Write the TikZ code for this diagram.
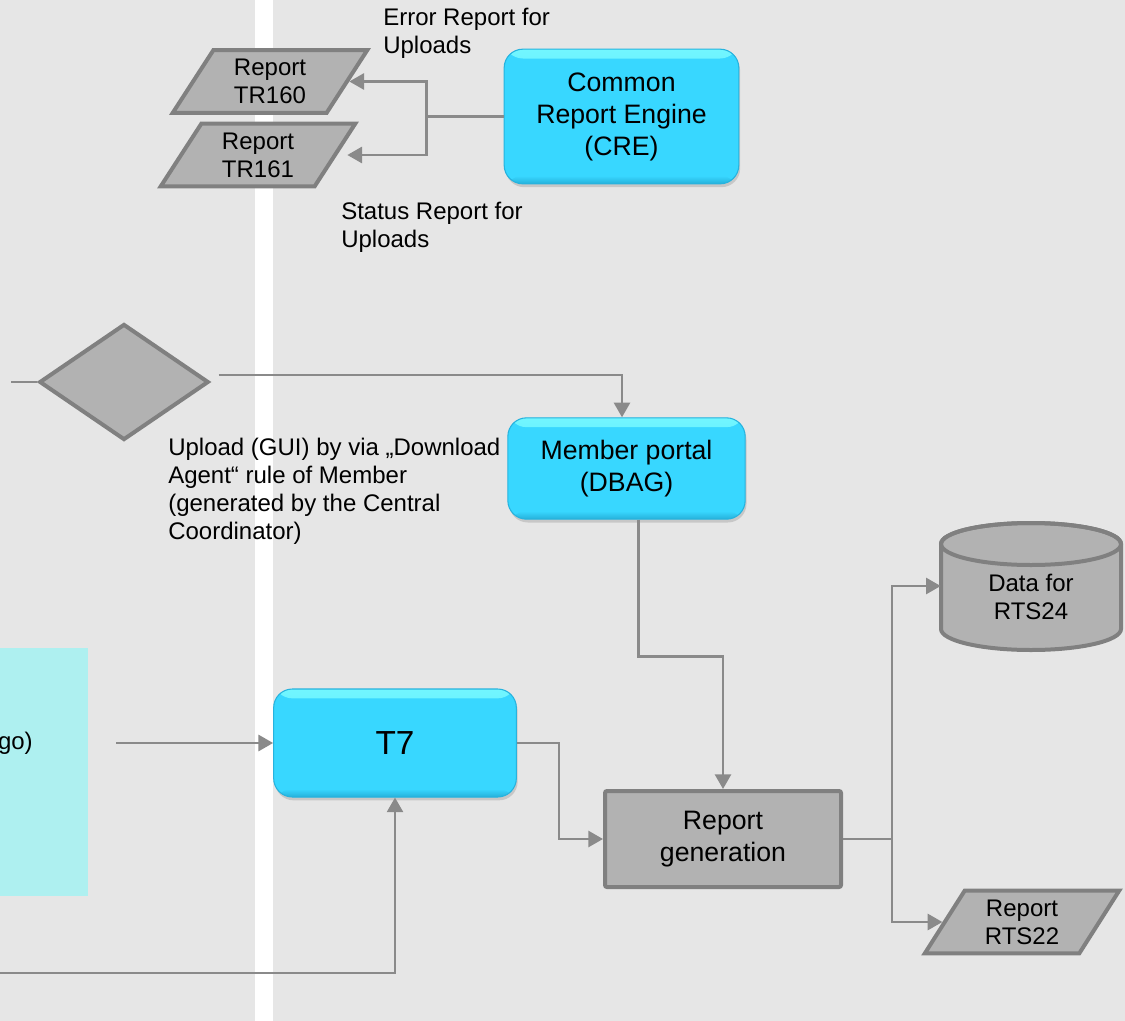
\documentclass[tikz,border=0pt]{standalone}
\usepackage{fontspec}
\setmainfont{Liberation Sans}
\usetikzlibrary{shapes.geometric,arrows.meta,shadows}
\definecolor{bgcol}{HTML}{E6E6E6}
\definecolor{gfill}{HTML}{B2B2B2}
\definecolor{gline}{HTML}{808080}
\definecolor{conn}{HTML}{8A8A8A}
\definecolor{cyanbox}{HTML}{38D7FF}
\definecolor{cyanhi}{HTML}{72F6FF}
\definecolor{cyanlow}{HTML}{25B0DA}
\definecolor{cyanedge}{HTML}{27B3DE}
\definecolor{cyanpale}{HTML}{AEF0F0}

\begin{document}
\begin{tikzpicture}[x=0.75pt,y=-0.75pt,
        smalltxt/.style={font=\fontsize{18}{21}\selectfont},
        midtxt/.style={font=\fontsize{20}{24}\selectfont},
        cyannode/.style={draw=cyanedge, line width=0.8pt, fill=cyanbox, rounded corners=14pt, align=center, midtxt,
            drop shadow={opacity=0.3, shadow xshift=1pt, shadow yshift=-2.5pt},
            path picture={
                \shade[top color=cyanhi, bottom color=cyanbox] (path picture bounding box.north west)
                    rectangle ([yshift=-7pt]path picture bounding box.north east);
                \shade[top color=cyanbox, bottom color=cyanlow] ([yshift=6pt]path picture bounding box.south west)
                    rectangle (path picture bounding box.south east);}},
        graynode/.style={draw=gline, line width=3pt, fill=gfill, align=center},
        datanode/.style={graynode, trapezium, trapezium left angle=60, trapezium right angle=120,
            trapezium stretches=true, minimum width=147pt, minimum height=47pt, inner sep=0pt, smalltxt},
        conline/.style={draw=conn, line width=2pt},
        arr/.style={conline, -{Triangle[length=11pt,width=12pt]}}]

        \useasboundingbox (0,0) rectangle (1125,1021);
        \fill[bgcol] (0,0) rectangle (1125,1021);
        \fill[white] (255,0) rectangle (273,1021);
        \fill[cyanpale] (0,648) rectangle (88,896);

        \node[cyannode, minimum width=176pt, minimum height=101pt] (cre) at (621.5,116.5) {Common\\Report Engine\\(CRE)};
        \node[datanode] (tr160) at (270,81.5) {Report\\TR160};
        \node[datanode] (tr161) at (258,155) {Report\\TR161};
        \node[smalltxt, anchor=west, align=left, inner sep=0pt] (errtxt) at (383,33) {Error Report for\\Uploads};
        \node[smalltxt, anchor=west, align=left, inner sep=0pt] (stattxt) at (341,227) {Status Report for\\Uploads};

        \draw[arr] (cre.west) -- ++(-77,0) |- (tr160.east);
        \draw[arr] (cre.west) -- ++(-77,0) |- ([shift={(10,0)}]tr161.east);

        \node[graynode, diamond, minimum width=127pt, minimum height=87pt, inner sep=0pt] (dec) at (124,382) {};
        \node[cyannode, minimum width=178pt, minimum height=76pt] (portal) at (626.5,468.5) {Member portal\\(DBAG)};
        \node[smalltxt, anchor=west, align=left, inner sep=0pt] (uptxt) at (168,491)
            {Upload (GUI) by via „Download\\Agent“ rule of Member\\(generated by the Central\\Coordinator)};

        \coordinate (decin) at (11,382);
        \draw[conline] (decin) -- (dec.west);
        \draw[arr] ([shift={(8,-7)}]dec.east) -| ([shift={(-4.5,0)}]portal.north);

        \node[smalltxt, anchor=east, inner sep=0pt] (gotxt) at (33,743) {go)};
        \node[cyannode, minimum width=182pt, minimum height=81pt, font=\fontsize{25}{30}\selectfont] (t7) at (395,743) {T7};
        \node[graynode, midtxt, minimum width=177pt, minimum height=72pt, rounded corners=1.5pt] (gen) at (723,839) {Report\\generation};

        \coordinate (t7in) at (116,743);
        \coordinate (t7low) at (0,973);
        \draw[arr] (t7in) -- (t7.west);
        \draw[arr] (t7low) -| (t7.south);
        \draw[arr] (t7.east) -- ++(42,0) |- (gen.west);
        \draw[arr] ([shift={(12,0)}]portal.south) -- ++(0,137) -| (gen.north);

        \filldraw[draw=gline, line width=3pt, fill=gfill] (941,544) -- (941,629)
            arc[start angle=180, end angle=360, x radius=67.5pt, y radius=15.75pt] -- (1121,544)
            arc[start angle=0, end angle=180, x radius=67.5pt, y radius=15.75pt] -- cycle;
        \draw[draw=gline, line width=3pt] (1031,544) ellipse [x radius=67.5pt, y radius=15.75pt];
        \node[smalltxt, align=center, minimum width=135pt, minimum height=95pt, inner sep=0pt] (rts24) at (1031,597) {Data for\\RTS24};
        \node[datanode] (rts22) at (1022,922) {Report\\RTS22};

        \draw[conline] (gen.east) -- ++(49,0) coordinate (fork);
        \draw[arr] (fork) |- ([shift={(0,-11)}]rts24.west);
        \draw[arr] (fork) |- (rts22.west);

    \end{tikzpicture}
\end{document}
